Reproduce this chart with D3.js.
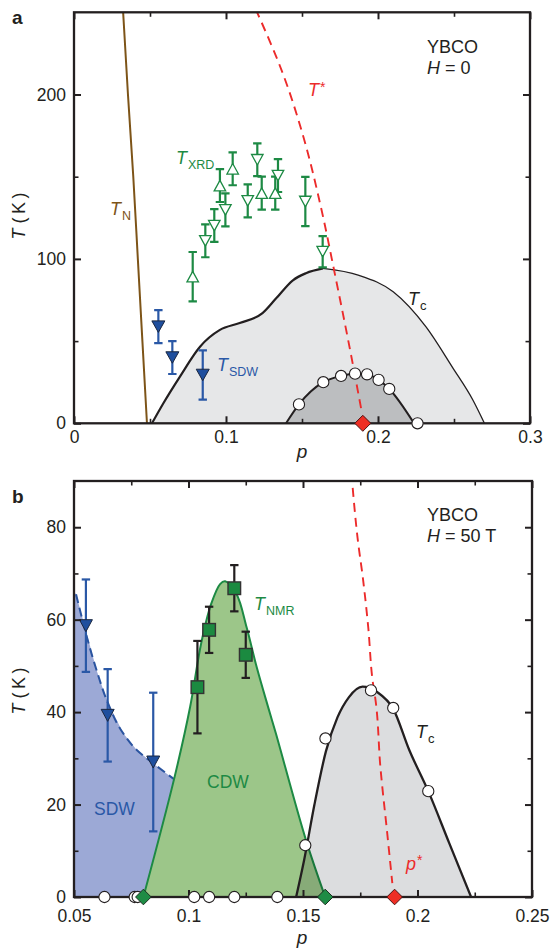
<!DOCTYPE html>
<html><head><meta charset="utf-8">
<script src="https://cdn.jsdelivr.net/npm/d3@7"></script>
<style>
html,body{margin:0;padding:0;background:#fff;}
svg{display:block;font-family:"Liberation Sans",Arial,Helvetica,sans-serif;}
</style></head><body>
<svg id="chart" width="552" height="951"></svg>
<script>
// ---------------- Panel a data (H = 0) ----------------
const aXMajor = [0, 0.1, 0.2, 0.3];
const aXMinor = [0.05, 0.15, 0.25];
const aYMajor = [0, 100, 200];
const aYMinor = [50, 150];

const tnP = [0.0322, 0.0355, 0.039, 0.042, 0.045, 0.048];
const tnT = [252, 200, 150, 100, 50, 0];

const tStarP = [0.1195, 0.1385, 0.1522, 0.1628, 0.1718, 0.1805, 0.1895];
const tStarT = [252, 210, 170, 130, 90, 50, 6];

const tcAP = [0.0513, 0.0588, 0.0697, 0.0829, 0.096, 0.109, 0.124, 0.133, 0.144, 0.1526, 0.1638, 0.1875, 0.21, 0.2316, 0.249, 0.2625, 0.27];
const tcAT = [0, 12.2, 28.4, 46.6, 56.8, 61, 67, 76, 87, 91.3, 94.2, 90, 80, 58.6, 34, 14, 0];

const domeAP = [0.1395, 0.148, 0.164, 0.1757, 0.1849, 0.1928, 0.2004, 0.2074, 0.2237];
const domeAT = [0, 11.5, 25, 28.8, 30.2, 29.8, 26.4, 20.9, 0];

const circAP = [0.148, 0.164, 0.1757, 0.1849, 0.1928, 0.2004, 0.2074];
const circAT = [11.5, 25, 28.8, 30.2, 29.8, 26.4, 20.9];
const circAZeroP = [0.226];

const xrdP = [0.0781, 0.0864, 0.0923, 0.0996, 0.096, 0.1044, 0.1143, 0.1206, 0.1235, 0.1324, 0.1342, 0.1522, 0.1636];
const xrdT = [89.2, 111, 120.3, 129.8, 144.6, 154.8, 135.3, 160.3, 140, 140, 150.7, 134.9, 104.4];
const xrdErr = [15, 10, 10, 10, 10, 10, 10, 10, 10, 10, 10, 15, 9.5];
const xrdDir = ["up", "down", "down", "down", "up", "up", "down", "down", "up", "up", "down", "down", "down"];

const sdwAP = [0.0555, 0.0647, 0.0847];
const sdwAT = [58.8, 40, 29.4];
const sdwAErr = [10, 10, 15];

const pStarA = [0.19];

// ---------------- Panel b data (H = 50 T) ----------------
const bXMajor = [0.05, 0.1, 0.15, 0.2, 0.25];
const bXMinor = [0.075, 0.125, 0.175, 0.225];
const bYMajor = [0, 20, 40, 60, 80];
const bYMinor = [10, 30, 50, 70];

const sdwBoundP = [0.05, 0.0509, 0.0599, 0.0643, 0.0715, 0.0774, 0.0846, 0.0937];
const sdwBoundT = [66, 65.5, 49, 42.6, 35.4, 31.8, 28.9, 25.5];

const cdwP = [0.0803, 0.0937, 0.1007, 0.1055, 0.1099, 0.1138, 0.116, 0.121, 0.1254, 0.1298, 0.135, 0.1382, 0.1513, 0.1597];
const cdwT = [0, 25.5, 41.1, 54.8, 63.4, 67.7, 68.3, 65.5, 58.3, 49.7, 40.7, 35.3, 12.3, 0];

const tcBP = [0.147, 0.1505, 0.155, 0.16, 0.165, 0.17, 0.176, 0.1825, 0.1894, 0.1964, 0.2047, 0.2139, 0.2234];
const tcBT = [0, 8, 20, 31.5, 38.8, 43.2, 45.5, 44.3, 40.7, 31.8, 22.9, 11.6, 0];

const circBP = [0.151, 0.1598, 0.1797, 0.1894, 0.2047, 0.0633, 0.0765, 0.0778, 0.1025, 0.109, 0.12, 0.1388];
const circBT = [11.2, 34.3, 44.7, 40.9, 22.9, 0, 0, 0, 0, 0, 0, 0];

const sdwBP = [0.0552, 0.0647, 0.0846];
const sdwBT = [58.7, 39.3, 29.2];
const sdwBErr = [10, 10, 15];

const nmrP = [0.1039, 0.109, 0.12, 0.125];
const nmrT = [45.4, 57.8, 66.8, 52.4];
const nmrErr = [10, 5, 5, 5];

const pStarBP = [0.1717, 0.1738, 0.1763, 0.1785, 0.1804, 0.1817, 0.1838, 0.1868, 0.189];
const pStarBT = [88.5, 77.8, 68.4, 58.3, 46.8, 42.5, 28.1, 13.7, 3];

const greenDiamP = [0.0803, 0.1597];
const redDiamBP = [0.19];

// ---------------- drawing ----------------
const INK = "#231f20";
const RED = "#ec2b2b";
const GREEN = "#1d8a44";
const BLUE = "#2a58a6";
const BROWN = "#7d5418";
const svg = d3.select("#chart");
const zip = (a, b) => a.map((v, i) => [v, b[i]]);

const xA = d3.scaleLinear().domain([0, 0.3]).range([74, 530]);
const yA = d3.scaleLinear().domain([0, 250]).range([423.3, 12.3]);
const xB = d3.scaleLinear().domain([0.05, 0.25]).range([74, 532]);
const yB = d3.scaleLinear().domain([0, 90]).range([897, 481]);

function clip(id, x, y) {
  svg.append("clipPath").attr("id", id).append("rect")
    .attr("x", x.range()[0]).attr("y", y.range()[1])
    .attr("width", x.range()[1] - x.range()[0]).attr("height", y.range()[0] - y.range()[1]);
}
clip("ca", xA, yA); clip("cb", xB, yB);

function axes(x, y, xMaj, xMin, yMaj, yMin, fmtX, xPad) {
  const [x0, x1] = x.range(), [y0, y1] = y.range();
  const style = (g, w, txt) => {
    g.select(".domain").remove();
    g.selectAll("line").attr("stroke", INK).attr("stroke-width", w);
    g.selectAll("text").attr("font-size", 17.5).attr("fill", INK).style("font-family", "'Liberation Sans',Arial,sans-serif");
    if (!txt) g.selectAll("text").remove();
  };
  svg.append("g").attr("transform", `translate(0,${y0})`)
    .call(d3.axisBottom(x).tickValues(xMaj).tickSize(-7).tickSizeOuter(0).tickPadding(xPad).tickFormat(fmtX)).call(g => style(g, 2, true));
  svg.append("g").attr("transform", `translate(0,${y0})`)
    .call(d3.axisBottom(x).tickValues(xMin).tickSize(-4.5).tickSizeOuter(0)).call(g => style(g, 1.6, false));
  svg.append("g").attr("transform", `translate(0,${y1})`)
    .call(d3.axisTop(x).tickValues(xMaj).tickSize(-7).tickSizeOuter(0)).call(g => style(g, 2, false));
  svg.append("g").attr("transform", `translate(0,${y1})`)
    .call(d3.axisTop(x).tickValues(xMin).tickSize(-4.5).tickSizeOuter(0)).call(g => style(g, 1.6, false));
  svg.append("g").attr("transform", `translate(${x0},0)`)
    .call(d3.axisLeft(y).tickValues(yMaj).tickSize(-7).tickSizeOuter(0).tickPadding(8).tickFormat(d3.format("d"))).call(g => style(g, 2, true));
  svg.append("g").attr("transform", `translate(${x0},0)`)
    .call(d3.axisLeft(y).tickValues(yMin).tickSize(-4.5).tickSizeOuter(0)).call(g => style(g, 1.6, false));
  svg.append("g").attr("transform", `translate(${x1},0)`)
    .call(d3.axisRight(y).tickValues(yMaj).tickSize(-7).tickSizeOuter(0)).call(g => style(g, 2, false));
  svg.append("g").attr("transform", `translate(${x1},0)`)
    .call(d3.axisRight(y).tickValues(yMin).tickSize(-4.5).tickSizeOuter(0)).call(g => style(g, 1.6, false));
  svg.append("rect").attr("x", x0).attr("y", y1).attr("width", x1 - x0).attr("height", y0 - y1)
    .attr("fill", "none").attr("stroke", INK).attr("stroke-width", 2.3);
}

function tri(dir, w, h) {
  return dir === "up"
    ? `M0,${-h / 2}L${w / 2},${h / 2}L${-w / 2},${h / 2}Z`
    : `M${-w / 2},${-h / 2}L${w / 2},${-h / 2}L0,${h / 2}Z`;
}
function diamond(r) { return `M0,${-r}L${r},0L0,${r}L${-r},0Z`; }

function errBars(g, x, y, P, T, E, color, w) {
  P.forEach((p, i) => {
    const cx = x(p), yt = y(T[i] + E[i]), yb = y(T[i] - E[i]);
    g.append("line").attr("x1", cx).attr("x2", cx).attr("y1", yt).attr("y2", yb).attr("stroke", color).attr("stroke-width", w);
    [yt, yb].forEach(yy => g.append("line").attr("x1", cx - 4.2).attr("x2", cx + 4.2).attr("y1", yy).attr("y2", yy).attr("stroke", color).attr("stroke-width", w));
  });
}

function subLabel(x, y, main, sub, color, opts = {}) {
  const t = svg.append("text").attr("x", x).attr("y", y).attr("fill", color).attr("font-size", opts.size || 18);
  t.append("tspan").attr("font-style", "italic").text(main);
  if (sub) t.append("tspan").attr("font-size", opts.subSize || 12.5).attr("dy", opts.dy != null ? opts.dy : 5).attr("dx", opts.dx || 1).text(sub);
  return t;
}

// ===== Panel a =====
const ga = svg.append("g").attr("clip-path", "url(#ca)");
const tcApts = zip(tcAP, tcAT);
const peakA = tcAT.indexOf(d3.max(tcAT));
ga.append("path").datum(tcApts)
  .attr("d", d3.area().x(d => xA(d[0])).y0(yA(0)).y1(d => yA(d[1])).curve(d3.curveMonotoneX))
  .attr("fill", "#e6e7e8");
const lineA = d3.line().x(d => xA(d[0])).y(d => yA(d[1])).curve(d3.curveMonotoneX);
ga.append("path").datum(tcApts.slice(0, peakA + 1)).attr("d", lineA).attr("fill", "none").attr("stroke", INK).attr("stroke-width", 2.2);
ga.append("path").datum(tcApts.slice(peakA)).attr("d", lineA).attr("fill", "none").attr("stroke", INK).attr("stroke-width", 1.3);

const domePts = zip(domeAP, domeAT);
ga.append("path").datum(domePts)
  .attr("d", d3.area().x(d => xA(d[0])).y0(yA(0)).y1(d => yA(d[1])).curve(d3.curveMonotoneX))
  .attr("fill", "#bcbec0");
ga.append("path").datum(domePts).attr("d", lineA).attr("fill", "none").attr("stroke", INK).attr("stroke-width", 2);

const lineY_A = d3.line().x(d => xA(d[0])).y(d => yA(d[1])).curve(d3.curveMonotoneY);
ga.append("path").datum(zip(tnP, tnT)).attr("d", lineY_A).attr("fill", "none").attr("stroke", BROWN).attr("stroke-width", 2);
ga.append("path").datum(zip(tStarP, tStarT)).attr("d", lineY_A).attr("fill", "none").attr("stroke", RED).attr("stroke-width", 1.9).attr("stroke-dasharray", "9,6");

// XRD
errBars(ga, xA, yA, xrdP, xrdT, xrdErr, GREEN, 2.2);
ga.selectAll(".xrd").data(xrdP).join("path")
  .attr("transform", (p, i) => `translate(${xA(p)},${yA(xrdT[i])})`)
  .attr("d", (p, i) => tri(xrdDir[i], 11.5, 10.5))
  .attr("fill", "#fff").attr("stroke", GREEN).attr("stroke-width", 1.3);

// SDW
errBars(ga, xA, yA, sdwAP, sdwAT, sdwAErr, BLUE, 2.2);
ga.selectAll(".sdwa").data(sdwAP).join("path")
  .attr("transform", (p, i) => `translate(${xA(p)},${yA(sdwAT[i])})`)
  .attr("d", tri("down", 13, 11.5))
  .attr("fill", "#1f4f9e").attr("stroke", "#1a2740").attr("stroke-width", 1);

// circles
ga.selectAll(".ca").data(circAP).join("circle")
  .attr("cx", p => xA(p)).attr("cy", (p, i) => yA(circAT[i])).attr("r", 5.6)
  .attr("fill", "#fff").attr("stroke", INK).attr("stroke-width", 1.1);

axes(xA, yA, aXMajor, aXMinor, aYMajor, aYMinor, d => d === 0 ? "0" : d3.format(".1f")(d), 7);

svg.selectAll(".rda").data(pStarA).join("path")
  .attr("transform", p => `translate(${xA(p)},${yA(0)})`).attr("d", diamond(8))
  .attr("fill", "#ee2e24").attr("stroke", "#4a1414").attr("stroke-width", 1);
svg.selectAll(".cae").data(circAZeroP).join("circle")
  .attr("cx", p => xA(p)).attr("cy", yA(0)).attr("r", 5.6)
  .attr("fill", "#fff").attr("stroke", INK).attr("stroke-width", 1.1);

// ===== Panel b =====
const gb = svg.append("g").attr("clip-path", "url(#cb)");
const lineB = d3.line().x(d => xB(d[0])).y(d => yB(d[1]));
const sdwPoly = [[0.05, 0]].concat(zip(sdwBoundP, sdwBoundT), [[0.0803, 0]]);
gb.append("path").datum(sdwPoly).attr("d", lineB.curve(d3.curveLinear)).attr("fill", "#9ca9d6");
gb.append("path").datum(zip(sdwBoundP.slice(1), sdwBoundT.slice(1)))
  .attr("d", d3.line().x(d => xB(d[0])).y(d => yB(d[1])).curve(d3.curveMonotoneY))
  .attr("fill", "none").attr("stroke", "#2a54a0").attr("stroke-width", 2).attr("stroke-dasharray", "9,5");

const cdwPts = zip(cdwP, cdwT);
const cdwLine = d3.line().x(d => xB(d[0])).y(d => yB(d[1])).curve(d3.curveCatmullRom.alpha(0.5));
gb.append("path").datum(cdwPts).attr("d", cdwLine).attr("fill", "#9cc689");
gb.append("path").datum(cdwPts).attr("d", cdwLine).attr("fill", "none").attr("stroke", GREEN).attr("stroke-width", 2);

const tcBpts = zip(tcBP, tcBT);
gb.append("path").datum(tcBpts)
  .attr("d", d3.area().x(d => xB(d[0])).y0(yB(0)).y1(d => yB(d[1])).curve(d3.curveMonotoneX))
  .attr("fill", "#dcdddf").style("mix-blend-mode", "multiply");
gb.append("path").datum(tcBpts)
  .attr("d", d3.line().x(d => xB(d[0])).y(d => yB(d[1])).curve(d3.curveMonotoneX))
  .attr("fill", "none").attr("stroke", INK).attr("stroke-width", 2.3);

gb.append("path").datum(zip(pStarBP, pStarBT))
  .attr("d", d3.line().x(d => xB(d[0])).y(d => yB(d[1])).curve(d3.curveMonotoneY))
  .attr("fill", "none").attr("stroke", RED).attr("stroke-width", 1.9).attr("stroke-dasharray", "9,6");

errBars(gb, xB, yB, sdwBP, sdwBT, sdwBErr, BLUE, 2.2);
gb.selectAll(".sdwb").data(sdwBP).join("path")
  .attr("transform", (p, i) => `translate(${xB(p)},${yB(sdwBT[i])})`)
  .attr("d", tri("down", 13, 12))
  .attr("fill", "#1f4f9e").attr("stroke", "#1a2740").attr("stroke-width", 1);

errBars(gb, xB, yB, nmrP, nmrT, nmrErr, INK, 2.2);
gb.selectAll(".nmr").data(nmrP).join("rect")
  .attr("x", p => xB(p) - 6.3).attr("y", (p, i) => yB(nmrT[i]) - 6.3)
  .attr("width", 12.6).attr("height", 12.6)
  .attr("fill", "#1b8a40").attr("stroke", "#333").attr("stroke-width", 1.4);

axes(xB, yB, bXMajor, bXMinor, bYMajor, bYMinor, d => d3.format("")(+d.toFixed(3)), 12.5);

svg.selectAll(".cb").data(circBP).join("circle")
  .attr("cx", p => xB(p)).attr("cy", (p, i) => yB(circBT[i])).attr("r", 5.6)
  .attr("fill", "#fff").attr("stroke", INK).attr("stroke-width", 1.1);
svg.selectAll(".gdb").data(greenDiamP).join("path")
  .attr("transform", p => `translate(${xB(p)},${yB(0)})`).attr("d", diamond(7.8))
  .attr("fill", "#1e8c45").attr("stroke", "#1b3020").attr("stroke-width", 1);
svg.selectAll(".rdb").data(redDiamBP).join("path")
  .attr("transform", p => `translate(${xB(p)},${yB(0)})`).attr("d", diamond(7.8))
  .attr("fill", "#ee2e24").attr("stroke", "#4a1414").attr("stroke-width", 1);

// ===== Text =====
svg.append("text").attr("x", 12).attr("y", 24).attr("font-size", 19).attr("font-weight", "bold").attr("fill", INK).text("a");
svg.append("text").attr("x", 12).attr("y", 503).attr("font-size", 19).attr("font-weight", "bold").attr("fill", INK).text("b");

function yLabel(cy) {
  const t = svg.append("text").attr("transform", `translate(25,${cy}) rotate(-90)`).attr("text-anchor", "middle")
    .attr("font-size", 18).attr("fill", INK);
  t.append("tspan").attr("font-style", "italic").text("T");
  t.append("tspan").text(" (\u2009K\u2009)");
}
yLabel(216); yLabel(691);
svg.append("text").attr("x", 302).attr("y", 458).attr("text-anchor", "middle").attr("font-size", 19).attr("font-style", "italic").attr("fill", INK).text("p");
svg.append("text").attr("x", 302).attr("y", 944).attr("text-anchor", "middle").attr("font-size", 19).attr("font-style", "italic").attr("fill", INK).text("p");

function info(y1, rest) {
  svg.append("text").attr("x", 427).attr("y", y1).attr("font-size", 18).attr("fill", INK).text("YBCO");
  const t = svg.append("text").attr("x", 427).attr("y", y1 + 21).attr("font-size", 18).attr("fill", INK);
  t.append("tspan").attr("font-style", "italic").text("H");
  t.append("tspan").text(rest);
}
info(53, " = 0"); info(521, " = 50 T");

subLabel(308, 96, "T", "*", RED, { dy: -4, subSize: 14, dx: 0 });
subLabel(176, 164, "T", "XRD", GREEN);
subLabel(110, 215, "T", "N", BROWN);
subLabel(217, 371, "T", "SDW", BLUE);
subLabel(408, 305, "T", "c", INK, { subSize: 13 });

subLabel(254, 610, "T", "NMR", GREEN);
subLabel(416, 738, "T", "c", INK, { subSize: 13 });
subLabel(406, 870, "p", "*", RED, { dy: -5, subSize: 14, dx: 0 });
svg.append("text").attr("x", 207).attr("y", 788).attr("font-size", 17.5).attr("fill", GREEN).text("CDW");
svg.append("text").attr("x", 94).attr("y", 815).attr("font-size", 17.5).attr("fill", BLUE).text("SDW");
</script></body></html>
